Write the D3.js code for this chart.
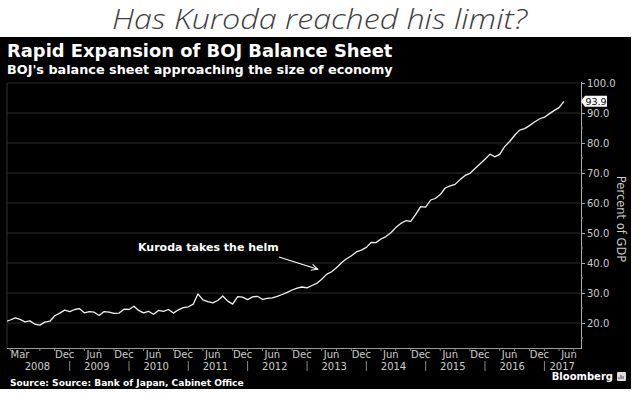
<!DOCTYPE html>
<html><head><meta charset="utf-8">
<script src="https://cdn.jsdelivr.net/npm/d3@7"></script>
<style>html,body{margin:0;padding:0;background:#fff;}svg{display:block;}</style>
</head><body>
<svg id="c" width="640" height="396"></svg>
<script>
// ---- data ----
const startMonth = "2007-12"; // first monthly observation
const values = [
  20.4,
  21.0,21.7,21.2,20.4,20.7,19.6,19.3,20.3,20.6,22.4,23.3,24.3,
  23.8,24.5,24.8,23.4,23.8,23.6,22.5,23.8,23.6,23.2,23.3,24.6,
  24.5,25.6,24.2,23.4,23.9,22.9,24.2,23.9,24.5,23.3,24.4,25.1,
  25.4,26.3,29.7,27.7,27.1,26.7,27.5,29.0,27.3,26.3,28.8,28.6,
  27.8,28.7,28.9,27.9,28.2,28.4,28.9,29.5,30.2,31.0,31.6,32.0,
  31.7,32.5,33.2,34.6,36.2,37.1,38.4,40.1,41.4,42.4,43.7,44.3,
  45.2,46.9,46.8,48.0,48.8,50.1,51.8,53.2,54.1,53.9,56.2,58.8,
  58.6,61.0,61.5,62.8,65.0,65.7,66.2,67.8,69.2,69.9,71.5,73.0,
  74.6,76.3,75.4,76.2,78.8,80.5,82.5,84.3,84.8,85.8,87.0,88.0,
  88.6,89.8,90.8,91.8,93.9
];
const monthTicks = ["2008-03","2008-12","2009-06","2009-12","2010-06","2010-12","2011-06","2011-12",
  "2012-06","2012-12","2013-06","2013-12","2014-06","2014-12","2015-06","2015-12","2016-06","2016-12","2017-06"];
const yearLabels = [2008,2009,2010,2011,2012,2013,2014,2015,2016,2017];
const yTicks = [20,30,40,50,60,70,80,90,100];
const lastLabel = "93.9";
const headline = "Has Kuroda reached his limit?";
const title = "Rapid Expansion of BOJ Balance Sheet";
const subtitle = "BOJ's balance sheet approaching the size of economy";
const annotation = "Kuroda takes the helm";
const annotationDate = "2013-04";
const source = "Source: Source: Bank of Japan, Cabinet Office";
const yTitle = "Percent of GDP";

// ---- setup ----
const parse = d3.timeParse("%Y-%m");
const fmtMon = d3.timeFormat("%b");
const t0 = parse(startMonth);
const data = values.map((v,i)=>({date:d3.timeMonth.offset(t0,i), value:v}));

const svg = d3.select("#c");
const L = 7, R = 580, B = 348;
const x = d3.scaleTime().domain([new Date(2007,11,12), new Date(2017,7,8)]).range([L,R]);
const y = d3.scaleLinear().domain([20,100]).range([323,83]);

// headline
svg.append("text").attr("x",112).attr("y",28.5)
  .attr("textLength",415).attr("lengthAdjust","spacingAndGlyphs")
  .attr("font-family","'Open Sans', sans-serif").attr("font-style","italic").attr("font-weight",300)
  .attr("font-size",28).attr("fill","#404040").text(headline);

// black panel
svg.append("rect").attr("x",0).attr("y",37).attr("width",631).attr("height",352).attr("fill","#000");

svg.append("text").attr("x",7).attr("y",57).attr("font-family","'DejaVu Sans'").attr("font-weight","bold")
  .attr("font-size",17.9).attr("fill","#fff").text(title);
svg.append("text").attr("x",7).attr("y",74).attr("font-family","'DejaVu Sans'").attr("font-weight","bold")
  .attr("font-size",12.8).attr("fill","#fff").text(subtitle);

// gridlines
svg.append("g").selectAll("line").data(yTicks).join("line")
  .attr("x1",L).attr("x2",R).attr("y1",d=>y(d)).attr("y2",d=>y(d))
  .attr("stroke","#2e2e2e").attr("stroke-width",1);

// frame
svg.append("line").attr("x1",L).attr("x2",L).attr("y1",y(100)).attr("y2",B).attr("stroke","#333");
svg.append("line").attr("x1",L).attr("x2",R+1).attr("y1",B+0.5).attr("y2",B+0.5).attr("stroke","#9a9a9a");

// right axis
const yAxis = d3.axisRight(y).tickValues(yTicks).tickSize(4).tickPadding(2).tickFormat(d3.format(".1f"));
const ya = svg.append("g").attr("transform",`translate(${R+1},0)`).call(yAxis);
ya.select(".domain").remove();
ya.selectAll("line").attr("stroke","#aaa");
ya.selectAll("text").attr("fill","#ccc").attr("font-family","'DejaVu Sans'").attr("font-size",10);
svg.append("line").attr("x1",R+1.5).attr("x2",R+1.5).attr("y1",y(100)-1).attr("y2",B+1).attr("stroke","#aaa");
// minor ticks
svg.append("g").selectAll("line").data(d3.range(15,100,10)).join("line")
  .attr("x1",R+1).attr("x2",R+3).attr("y1",d=>y(d)).attr("y2",d=>y(d)).attr("stroke","#888");

// y title
svg.append("text").attr("transform",`translate(617,219) rotate(90)`).attr("text-anchor","middle")
  .attr("font-family","'DejaVu Sans'").attr("font-size",11.5).attr("fill","#ccc").text(yTitle);

// x axis ticks
const quarters = d3.timeMonth.every(3).range(new Date(2008,0,1), new Date(2017,7,1));
svg.append("g").selectAll("line").data(quarters).join("line")
  .attr("x1",d=>x(d)).attr("x2",d=>x(d)).attr("y1",B).attr("y2",B+3).attr("stroke","#888");
svg.append("g").selectAll("text").data(monthTicks.map(parse)).join("text")
  .attr("x",d=>x(d)).attr("y",358).attr("text-anchor","middle")
  .attr("font-family","'DejaVu Sans'").attr("font-size",10).attr("fill","#ccc").text(d=>fmtMon(d));
const xs = x.domain();
svg.append("g").selectAll("text").data(yearLabels).join("text")
  .attr("x",yr=>{const a=x(d3.max([new Date(yr,0,1),xs[0]])), b=x(d3.min([new Date(yr,11,1),xs[1]])); return (a+b)/2;})
  .attr("y",370).attr("text-anchor","middle")
  .attr("font-family","'DejaVu Sans'").attr("font-size",10).attr("fill","#ccc").text(d=>d);
svg.append("g").selectAll("line").data(yearLabels.slice(1)).join("line")
  .attr("x1",yr=>x(new Date(yr,0,1))).attr("x2",yr=>x(new Date(yr,0,1)))
  .attr("y1",361).attr("y2",371).attr("stroke","#888");

// line
svg.append("clipPath").attr("id","clip").append("rect").attr("x",L).attr("y",60).attr("width",R-L).attr("height",B-60);
svg.append("path").datum(data).attr("clip-path","url(#clip)")
  .attr("d",d3.line().x(d=>x(d.date)).y(d=>y(d.value)))
  .attr("fill","none").attr("stroke","#f2f2f2").attr("stroke-width",1.3).attr("stroke-linejoin","round");

// last value label
const last = data[data.length-1];
const ly = y(last.value);
svg.append("path").attr("d",`M${R+1},${ly} L${R+5},${ly-5.5} L${R+27},${ly-5.5} L${R+27},${ly+5.5} L${R+5},${ly+5.5} Z`)
  .attr("fill","#fff");
svg.append("text").attr("x",R+16).attr("y",ly+3.6).attr("text-anchor","middle")
  .attr("font-family","'DejaVu Sans'").attr("font-size",9.5).attr("fill","#000").text(lastLabel);

// annotation
const ad = data.find(d=>+d.date===+parse(annotationDate));
svg.append("text").attr("x",138).attr("y",251).attr("font-family","'DejaVu Sans'").attr("font-weight","bold")
  .attr("font-size",11).attr("fill","#fff").text(annotation);
const ax2 = x(ad.date)-4, ay2 = y(ad.value)-10;
const ax1 = 279, ay1 = 257;
const ang = Math.atan2(ay2-ay1, ax2-ax1);
svg.append("line").attr("x1",ax1).attr("y1",ay1).attr("x2",ax2).attr("y2",ay2).attr("stroke","#fff").attr("stroke-width",1.1);
const hl = 7;
svg.append("path").attr("d",`M${ax2-hl*Math.cos(ang-0.45)},${ay2-hl*Math.sin(ang-0.45)} L${ax2},${ay2} L${ax2-hl*Math.cos(ang+0.45)},${ay2-hl*Math.sin(ang+0.45)}`)
  .attr("fill","none").attr("stroke","#fff").attr("stroke-width",1.1);

// footer
svg.append("text").attr("x",10).attr("y",386).attr("font-family","'DejaVu Sans'").attr("font-weight","bold")
  .attr("font-size",9.1).attr("fill","#fff").text(source);
svg.append("text").attr("x",613).attr("y",380).attr("text-anchor","end").attr("font-family","'DejaVu Sans'").attr("font-weight","bold")
  .attr("font-size",10).attr("fill","#fff").text("Bloomberg");
svg.append("rect").attr("x",617).attr("y",372).attr("width",9).attr("height",9).attr("rx",1).attr("fill","#ddd");
svg.append("path").attr("d","M619,379 L619,377 M621,379 L621,375 M623,379 L623,376").attr("stroke","#555").attr("stroke-width",1);
</script>
</body></html>
